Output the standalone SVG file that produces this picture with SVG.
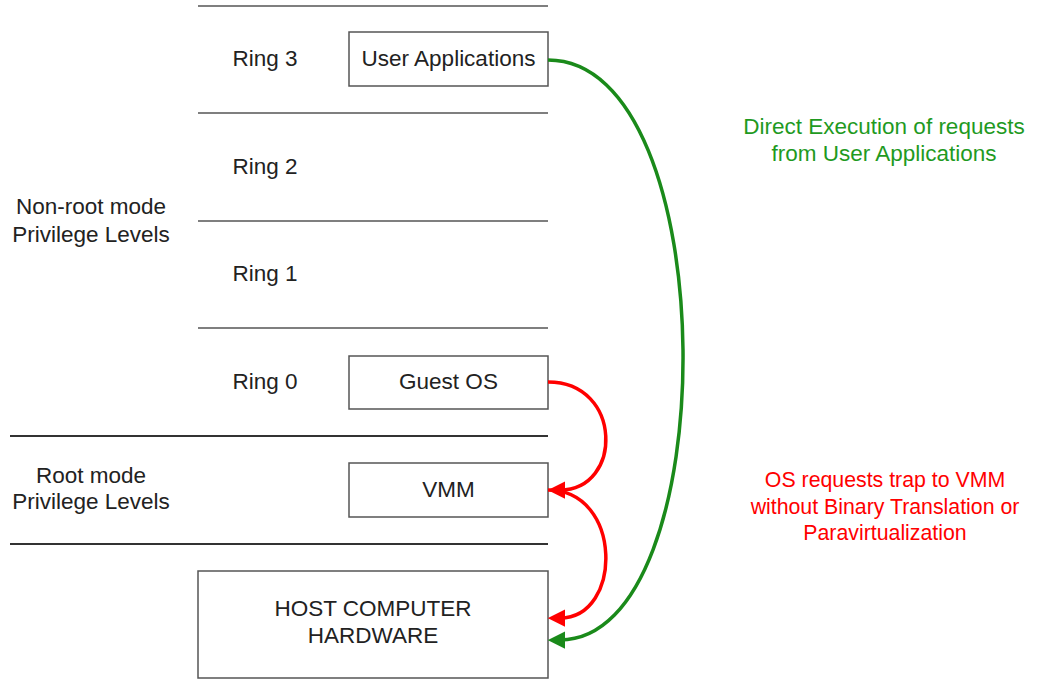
<svg xmlns="http://www.w3.org/2000/svg" width="1045" height="681" viewBox="0 0 1045 681">
  <style>
    text { font-family: "Liberation Sans", Arial, sans-serif; font-size: 22.5px; fill: #222; }
    .mid { text-anchor: middle; }
    .ring { stroke: #7f7f7f; stroke-width: 2; }
    .mode { stroke: #333; stroke-width: 2; }
    .box { fill: #fff; stroke: #555; stroke-width: 1.5; }
    .green { fill: none; stroke: #1a8a1a; stroke-width: 3.5; }
    .red { fill: none; stroke: #f00; stroke-width: 3.5; }
    .gt { fill: #1f9a1f; }
    .rt { fill: #f00; font-size: 21.3px; }
  </style>
  <defs>
    <marker id="arrowGreen" viewBox="0 0 10 10" refX="3" refY="5" markerWidth="5" markerHeight="5" markerUnits="strokeWidth" orient="auto">
      <path d="M0,0 L10,5 L0,10 z" fill="#1a8a1a"/>
    </marker>
    <marker id="arrowRed" viewBox="0 0 10 10" refX="3" refY="5" markerWidth="5" markerHeight="5" markerUnits="strokeWidth" orient="auto">
      <path d="M0,0 L10,5 L0,10 z" fill="#f00"/>
    </marker>
  </defs>

  <!-- ring separators -->
  <g id="separators">
    <line class="ring" x1="198" y1="6" x2="548" y2="6"/>
    <line class="ring" x1="198" y1="113" x2="548" y2="113"/>
    <line class="ring" x1="198" y1="221" x2="548" y2="221"/>
    <line class="ring" x1="198" y1="328" x2="548" y2="328"/>
    <line class="mode" x1="10" y1="436" x2="548" y2="436"/>
    <line class="mode" x1="10" y1="544" x2="548" y2="544"/>
  </g>

  <!-- ring and mode labels -->
  <g id="labels">
    <text class="mid" x="265" y="66">Ring 3</text>
    <text class="mid" x="265" y="174">Ring 2</text>
    <text class="mid" x="265" y="281">Ring 1</text>
    <text class="mid" x="265" y="389">Ring 0</text>
    <text class="mid" x="91" y="214">Non-root mode</text>
    <text class="mid" x="91" y="242">Privilege Levels</text>
    <text class="mid" x="91" y="483">Root mode</text>
    <text class="mid" x="91" y="509">Privilege Levels</text>
  </g>

  <g id="user-apps">
    <rect class="box" x="349" y="32" width="199" height="54"/>
    <text class="mid" x="448.5" y="66">User Applications</text>
  </g>
  <g id="guest-os">
    <rect class="box" x="349" y="356" width="199" height="53"/>
    <text class="mid" x="448.5" y="389">Guest OS</text>
  </g>
  <g id="vmm">
    <rect class="box" x="349" y="463" width="199" height="54"/>
    <text class="mid" x="448.5" y="497">VMM</text>
  </g>
  <g id="host-hardware">
    <rect class="box" x="198" y="571" width="350" height="107"/>
    <text class="mid" x="373" y="616">HOST COMPUTER</text>
    <text class="mid" x="373" y="643">HARDWARE</text>
  </g>

  <!-- connectors -->
  <g id="connectors">
    <path class="green" d="M548,60 C726,60 726,640 560,640" marker-end="url(#arrowGreen)"/>
    <path class="red" d="M548,382 C623,382 623,490 560,490" marker-end="url(#arrowRed)"/>
    <path class="red" d="M548,490 C623,490 623,618 560,618" marker-end="url(#arrowRed)"/>
  </g>

  <g id="notes">
    <text class="mid gt" x="884" y="134">Direct Execution of requests</text>
    <text class="mid gt" x="884" y="161">from User Applications</text>
    <text class="mid rt" x="885" y="487">OS requests trap to VMM</text>
    <text class="mid rt" x="885" y="514">without Binary Translation or</text>
    <text class="mid rt" x="885" y="540">Paravirtualization</text>
  </g>
</svg>
